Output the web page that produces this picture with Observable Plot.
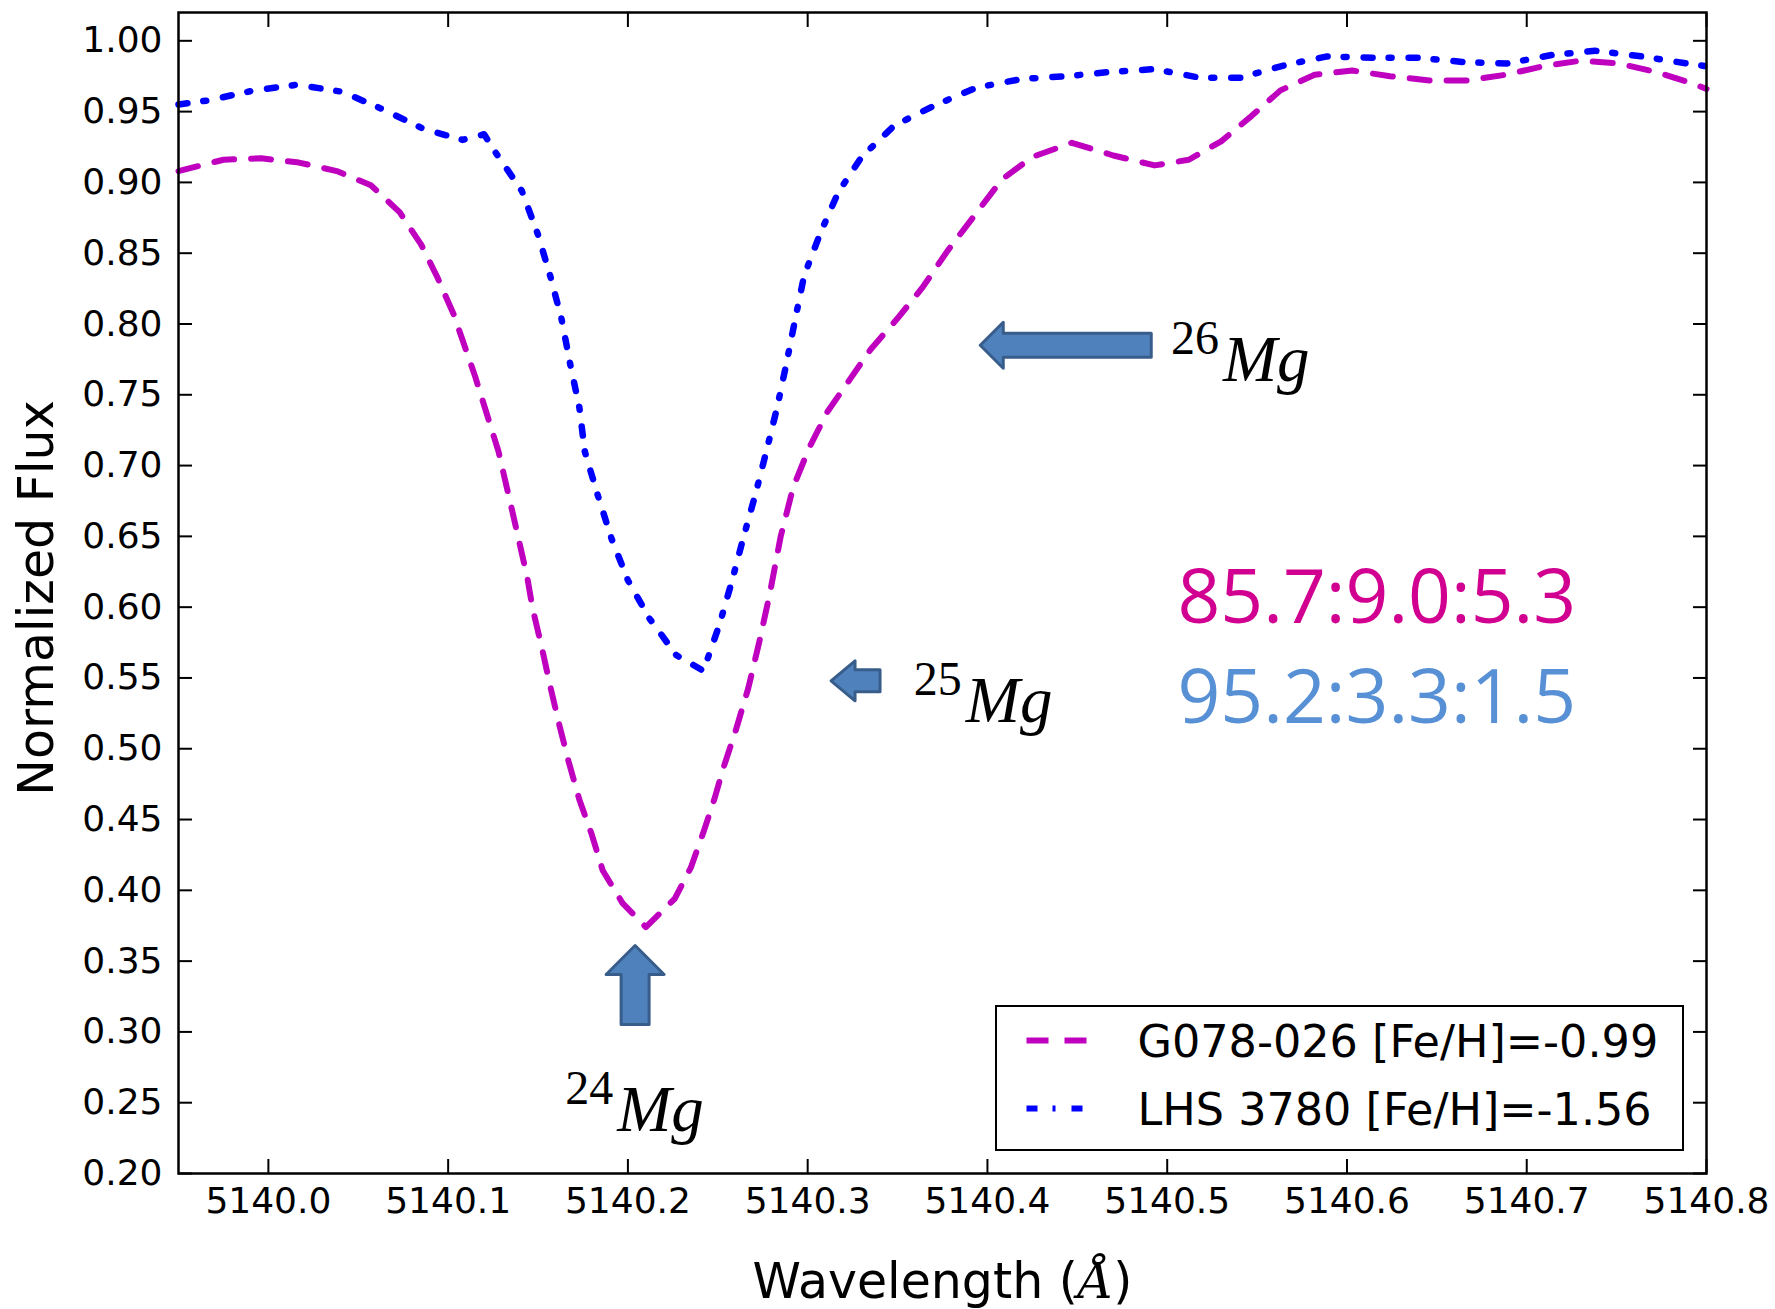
<!DOCTYPE html>
<html>
<head>
<meta charset="utf-8">
<script src="https://cdn.jsdelivr.net/npm/d3@7"></script>
<script src="https://cdn.jsdelivr.net/npm/@observablehq/plot@0.6"></script>
<style>
  html, body { margin: 0; padding: 0; background: #fff; }
  #wrap { position: relative; width: 1775px; height: 1309px; background: #fff; }
  #legend { position: absolute; left: 995px; top: 1005px; width: 689px; height: 146px;
            box-sizing: border-box; border: 2.5px solid #000; background: #fff; }
  #legend svg { position: absolute; left: 0; top: 0; }
</style>
</head>
<body>
<div id="wrap"></div>
<script>
// ---------------- data ----------------
const seriesNames = ["G078-026 [Fe/H]=-0.99", "LHS 3780 [Fe/H]=-1.56"];

const g078Wave = [5139.950, 5139.975, 5139.996, 5140.017, 5140.038, 5140.057, 5140.073, 5140.085,
  5140.094, 5140.103, 5140.115, 5140.128, 5140.136, 5140.144, 5140.147, 5140.152, 5140.157,
  5140.162, 5140.167, 5140.173, 5140.180, 5140.186, 5140.197, 5140.210, 5140.226, 5140.235,
  5140.242, 5140.248, 5140.253, 5140.260, 5140.267, 5140.273, 5140.279, 5140.285, 5140.292,
  5140.301, 5140.311, 5140.323, 5140.335, 5140.350, 5140.364, 5140.378, 5140.393, 5140.408,
  5140.425, 5140.447, 5140.470, 5140.493, 5140.512, 5140.530, 5140.547, 5140.563, 5140.582,
  5140.603, 5140.624, 5140.646, 5140.667, 5140.688, 5140.709, 5140.730, 5140.751, 5140.772,
  5140.792, 5140.800];
const g078Flux = [0.908, 0.916, 0.917, 0.914, 0.908, 0.898, 0.879, 0.856,
  0.833, 0.807, 0.763, 0.710, 0.666, 0.621, 0.599, 0.572, 0.543,
  0.516, 0.491, 0.464, 0.439, 0.414, 0.391, 0.374, 0.394, 0.416,
  0.441, 0.464, 0.486, 0.513, 0.543, 0.575, 0.610, 0.650, 0.685,
  0.713, 0.738, 0.760, 0.782, 0.804, 0.826, 0.852, 0.877, 0.902,
  0.918, 0.928, 0.919, 0.912, 0.916, 0.929, 0.947, 0.965, 0.976,
  0.979, 0.975, 0.972, 0.972, 0.976, 0.982, 0.986, 0.984, 0.978,
  0.970, 0.966];

const lhsWave = [5139.950, 5139.967, 5139.992, 5140.016, 5140.041, 5140.063, 5140.086, 5140.108,
  5140.120, 5140.127, 5140.141, 5140.150, 5140.157, 5140.163, 5140.168, 5140.173, 5140.176,
  5140.183, 5140.191, 5140.200, 5140.212, 5140.227, 5140.242, 5140.251, 5140.258, 5140.264,
  5140.271, 5140.277, 5140.283, 5140.288, 5140.293, 5140.298, 5140.307, 5140.317, 5140.330,
  5140.348, 5140.370, 5140.394, 5140.419, 5140.444, 5140.468, 5140.493, 5140.518, 5140.541,
  5140.566, 5140.589, 5140.615, 5140.640, 5140.665, 5140.689, 5140.714, 5140.738, 5140.764,
  5140.789, 5140.800];
const lhsFlux = [0.955, 0.958, 0.965, 0.969, 0.964, 0.952, 0.938, 0.930,
  0.934, 0.920, 0.894, 0.863, 0.833, 0.804, 0.771, 0.741, 0.710,
  0.680, 0.648, 0.619, 0.592, 0.566, 0.555, 0.588, 0.619, 0.648,
  0.680, 0.710, 0.741, 0.771, 0.803, 0.834, 0.864, 0.893, 0.918,
  0.940, 0.954, 0.967, 0.973, 0.975, 0.978, 0.980, 0.974, 0.974,
  0.983, 0.989, 0.988, 0.988, 0.985, 0.984, 0.990, 0.993, 0.989,
  0.984, 0.982];

const xTicks = [5140.0, 5140.1, 5140.2, 5140.3, 5140.4, 5140.5, 5140.6, 5140.7, 5140.8];
const yTicks = [0.20, 0.25, 0.30, 0.35, 0.40, 0.45, 0.50, 0.55, 0.60, 0.65, 0.70,
  0.75, 0.80, 0.85, 0.90, 0.95, 1.00];

// isotope annotations (data units): arrow tip and label position
const isotopes = ["26", "25", "24"];
const arrowTipWave = [5140.396, 5140.313, 5140.204];
const arrowTipFlux = [0.785, 0.548, 0.361];
const isoLabelWave = [5140.531, 5140.388, 5140.194];
const isoLabelFlux = [0.760, 0.519, 0.230];

const ratioTexts = ["85.7:9.0:5.3", "95.2:3.3:1.5"];
const ratioWave = [5140.5057, 5140.5057];
const ratioFlux = [0.589, 0.5185];

// ---------------- tables ----------------
const g078 = g078Wave.map((w, i) => ({w, f: g078Flux[i]}));
const lhs = lhsWave.map((w, i) => ({w, f: lhsFlux[i]}));
const arrows = isotopes.map((iso, i) => ({iso, w: arrowTipWave[i], f: arrowTipFlux[i]}));
const isoLabels = isotopes.map((iso, i) => ({iso, w: isoLabelWave[i], f: isoLabelFlux[i]}));
const ratios = ratioTexts.map((t, i) => ({t, w: ratioWave[i], f: ratioFlux[i]}));

// ---------------- styles ----------------
const magenta = "#bf00bf";
const blue = "#0000ff";
const arrowFill = "#4f81bd";
const arrowStroke = "#385d8a";

function poly(points) {
  return {draw(ctx) {
    ctx.moveTo(points[0][0], points[0][1]);
    for (let i = 1; i < points.length; i++) ctx.lineTo(points[i][0], points[i][1]);
    ctx.closePath();
  }};
}
const arrowLeftLong = poly([[0,0],[23,-23],[23,-12],[171,-12],[171,12],[23,12],[23,23]]);
const arrowLeftShort = poly([[0,0],[24,-20],[24,-11],[49,-11],[49,11],[24,11],[24,20]]);
const arrowUp = poly([[0,0],[29,29],[14,29],[14,79],[-14,79],[-14,29],[-29,29]]);
const arrowShapes = {"26": arrowLeftLong, "25": arrowLeftShort, "24": arrowUp};

const chart = Plot.plot({
  width: 1775,
  height: 1309,
  marginLeft: 178,
  marginRight: 69,
  marginTop: 12,
  marginBottom: 136,
  x: {domain: [5139.95, 5140.8]},
  y: {domain: [0.2, 1.02]},
  style: {fontFamily: "'DejaVu Sans', sans-serif", fontSize: "36px", background: "white", color: "black", overflow: "visible"},
  marks: [
    // tick labels
    Plot.axisX({anchor: "bottom", ticks: xTicks, tickSize: 0, tickPadding: 14, tickFormat: d3.format(".1f"), fontSize: 36, label: null}),
    Plot.axisY({anchor: "left", ticks: yTicks, tickSize: 0, tickPadding: 16, tickFormat: d3.format(".2f"), fontSize: 36, label: null}),
    // inward ticks on all four sides
    Plot.axisX({anchor: "bottom", ticks: xTicks, tickSize: -14, tickFormat: () => "", label: null, strokeWidth: 2}),
    Plot.axisX({anchor: "top", ticks: xTicks, tickSize: -14, tickFormat: () => "", label: null, strokeWidth: 2}),
    Plot.axisY({anchor: "left", ticks: yTicks, tickSize: -14, tickFormat: () => "", label: null, strokeWidth: 2}),
    Plot.axisY({anchor: "right", ticks: yTicks, tickSize: -14, tickFormat: () => "", label: null, strokeWidth: 2}),
    // spectra
    Plot.line(g078, {x: "w", y: "f", stroke: magenta, strokeWidth: 6, strokeDasharray: "20,17"}),
    Plot.line(lhs, {x: "w", y: "f", stroke: blue, strokeWidth: 6.5, strokeDasharray: "9,16,3,17"}),
    // isotope arrows
    ...isotopes.map(iso => Plot.dot(arrows.filter(d => d.iso === iso), {
      x: "w", y: "f", r: 10, symbol: arrowShapes[iso],
      fill: arrowFill, stroke: arrowStroke, strokeWidth: 3, strokeLinejoin: "round"
    })),
    // isotope labels
    Plot.text(isoLabels, {x: "w", y: "f", text: "iso", textAnchor: "end", lineAnchor: "bottom",
      dx: -4, dy: -27, fontFamily: "'Liberation Serif', serif", fontSize: 48, fill: "black"}),
    Plot.text(isoLabels, {x: "w", y: "f", text: () => "Mg", textAnchor: "start", lineAnchor: "bottom",
      fontFamily: "'Liberation Serif', serif", fontStyle: "italic", fontSize: 65, fill: "black"}),
    // ratio texts
    Plot.text(ratios.slice(0, 1), {x: "w", y: "f", text: "t", textAnchor: "start", lineAnchor: "bottom",
      fontFamily: "'Open Sans', sans-serif", fontSize: 75, fill: "#d10090"}),
    Plot.text(ratios.slice(1, 2), {x: "w", y: "f", text: "t", textAnchor: "start", lineAnchor: "bottom",
      fontFamily: "'Open Sans', sans-serif", fontSize: 75, fill: "#5890d6"}),
    // axis titles
    Plot.text(["Wavelength (Å)"], {frameAnchor: "bottom", text: d => d, dy: 124, lineAnchor: "bottom",
      textAnchor: "middle", fontSize: 49, fill: "black"}),
    Plot.text(["Normalized Flux"], {frameAnchor: "left", text: d => d, rotate: -90, dx: -126, dy: 5,
      textAnchor: "middle", lineAnchor: "bottom", fontSize: 49, fill: "black"}),
    Plot.frame({stroke: "black", strokeWidth: 2.5})
  ]
});

// italic Å in x-axis title (as in the reference's math text)
d3.select(chart).selectAll("text").each(function() {
  if (this.textContent === "Wavelength (Å)") {
    const t = d3.select(this);
    t.text(null);
    t.append("tspan").text("Wavelength (");
    t.append("tspan").attr("font-family", "'DejaVu Serif', serif").attr("font-style", "italic").text("Å");
    t.append("tspan").text(")");
  }
});

const wrap = document.getElementById("wrap");
wrap.appendChild(chart);

// legend (inside the plot frame, lower right)
const legend = document.createElement("div");
legend.id = "legend";
wrap.appendChild(legend);
const lsvg = d3.select(legend).append("svg").attr("width", 684).attr("height", 141);
const legendStyles = [
  {stroke: magenta, dash: "22,16"},
  {stroke: blue, dash: "11,15,3,16"}
];
seriesNames.forEach((name, i) => {
  const cy = 33.5 + i * 68;
  lsvg.append("line").attr("x1", 29.5).attr("x2", 89.5).attr("y1", cy).attr("y2", cy)
    .attr("stroke", legendStyles[i].stroke).attr("stroke-width", 6)
    .attr("stroke-dasharray", legendStyles[i].dash);
  lsvg.append("text").attr("x", 140.5).attr("y", cy + 16)
    .attr("font-family", "'DejaVu Sans', sans-serif").attr("font-size", 44.5)
    .attr("fill", "black").text(name);
});
</script>
</body>
</html>
